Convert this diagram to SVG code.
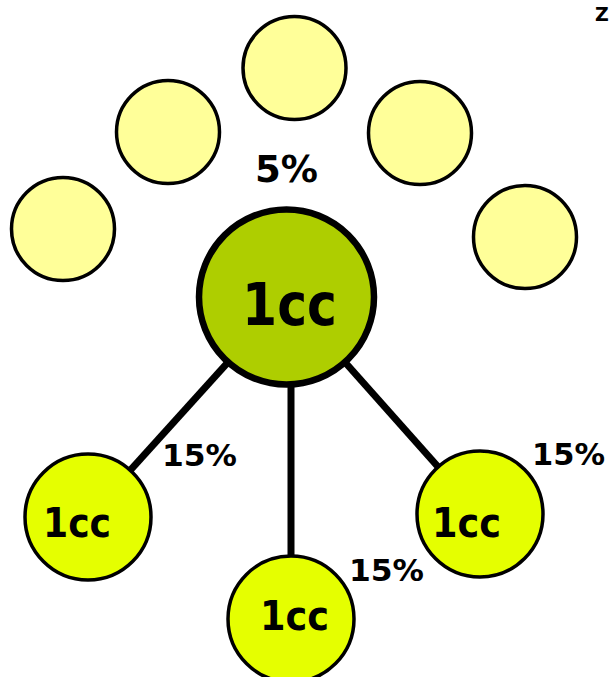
<svg xmlns="http://www.w3.org/2000/svg" width="610" height="677" viewBox="0 0 610 677">
<style>
.t{font-family:"DejaVu Sans","Liberation Sans",sans-serif;font-weight:bold;fill:#000}
.pale{fill:#FFFF99;stroke:#000;stroke-width:3.5}
.lime{fill:#E5FF00;stroke:#000;stroke-width:3.5}
.main{fill:#AECE00;stroke:#000;stroke-width:6.5}
.conn{stroke:#000;stroke-width:7;fill:none}
</style>
<rect width="610" height="677" fill="#fff"/>
<g id="connectors">
<line class="conn" x1="287" y1="297" x2="88" y2="517"/>
<line class="conn" x1="291" y1="297" x2="291" y2="619"/>
<line class="conn" x1="287" y1="297" x2="480" y2="514"/>
</g>
<g id="p1"><circle class="pale" cx="63" cy="229" r="51.5"/></g>
<g id="p2"><circle class="pale" cx="168" cy="132" r="51.5"/></g>
<g id="p3"><circle class="pale" cx="294.5" cy="68" r="51.5"/></g>
<g id="p4"><circle class="pale" cx="420" cy="133" r="51.5"/></g>
<g id="p5"><circle class="pale" cx="525" cy="237" r="51.5"/></g>
<g id="label5"><text class="t" x="255" y="182" font-size="38" textLength="63" lengthAdjust="spacingAndGlyphs">5%</text></g>
<g id="main"><circle class="main" cx="286.5" cy="297" r="87.5"/>
<text class="t" x="242" y="325" font-size="58" textLength="95" lengthAdjust="spacingAndGlyphs">1cc</text></g>
<g id="left"><circle class="lime" cx="88" cy="517" r="63"/>
<text class="t" x="43" y="537" font-size="41" textLength="68" lengthAdjust="spacingAndGlyphs">1cc</text></g>
<g id="bottom"><circle class="lime" cx="291" cy="619" r="63"/>
<text class="t" x="260" y="630" font-size="41" textLength="69" lengthAdjust="spacingAndGlyphs">1cc</text></g>
<g id="right"><circle class="lime" cx="480" cy="514" r="63"/>
<text class="t" x="432" y="537" font-size="41" textLength="69" lengthAdjust="spacingAndGlyphs">1cc</text></g>
<g id="labels">
<text class="t" x="162" y="466" font-size="31" textLength="75" lengthAdjust="spacingAndGlyphs">15%</text>
<text class="t" x="349" y="581" font-size="31" textLength="75" lengthAdjust="spacingAndGlyphs">15%</text>
<text class="t" x="532" y="465" font-size="31" textLength="73" lengthAdjust="spacingAndGlyphs">15%</text>
<text class="t" x="595" y="21" font-size="19">Z</text>
</g>
</svg>
